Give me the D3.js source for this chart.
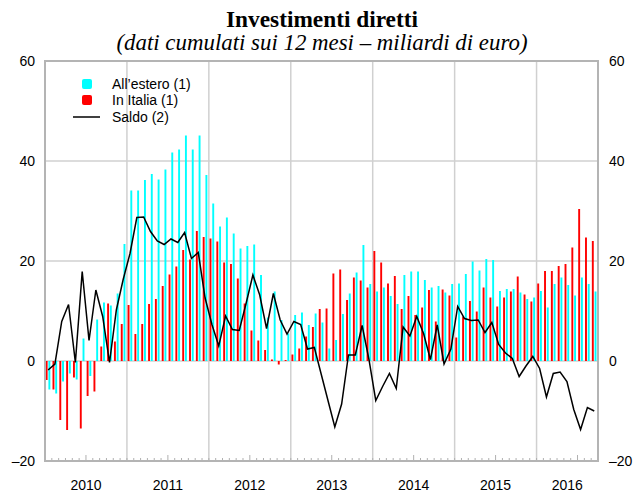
<!DOCTYPE html>
<html>
<head>
<meta charset="utf-8">
<script src="https://cdn.jsdelivr.net/npm/d3@7"></script>
<style>
  html, body { margin: 0; padding: 0; background: #fff; }
  svg { display: block; }
</style>
</head>
<body>
<svg id="chart" width="634" height="493"></svg>
<script>
// ---- Data (billions of euro, 12-month cumulated), monthly Jan 2010 - Sep 2016 ----
const months = d3.timeMonths(new Date(2010, 0, 1), new Date(2016, 9, 1)).map(d3.timeFormat("%Y-%m"));
const yearLabels = ["2010", "2011", "2012", "2013", "2014", "2015", "2016"];
const yTicks = [-20, 0, 20, 40, 60];
const yTickLabels = ["\u201320", "0", "20", "40", "60"];

const allEstero = [
  -5.7, -6.5, -4.1, -2.5, -3.7, 4.5, -3.0, 8.3, 11.7, 11.1, 13.5, 23.4,
  34.1, 34.1, 36.2, 37.4, 36.3, 38.3, 41.7, 42.3, 45.1, 42.3, 45.1, 37.2,
  31.5, 26.9, 28.7, 25.5, 22.5, 23.0, 23.3, 17.2, 8.7, 13.9, 8.2, 5.5,
  9.2, 9.7, 7.2, 9.5, 7.7, 2.5, 4.2, 9.4, 13.5, 17.7, 23.2, 15.4,
  13.9, 14.7, 13.0, 11.4, 17.2, 17.9, 17.9, 16.2, 14.7, 15.0, 13.7, 15.4,
  15.5, 17.4, 19.9, 18.1, 20.4, 20.2, 14.0, 14.4, 14.4, 13.7, 12.4, 12.7,
  14.0, 10.7, 15.4, 16.7, 15.2, 13.1, 16.7, 15.4, 13.9
];
const inItalia = [
  -3.8, -5.7, -11.8, -13.8, -3.3, -13.5, -7.0, -6.1, 2.9, 11.5, 3.9, 7.4,
  11.2, 5.4, 7.4, 11.4, 12.4, 15.0, 17.3, 18.9, 22.2, 20.3, 26.0, 24.8,
  24.5, 23.9, 19.7, 19.4, 16.5, 11.5, 6.1, 4.1, 2.2, 0.3, -0.7, 0.2,
  1.3, 2.5, 4.9, 6.8, 10.4, 10.5, 17.5, 18.3, 12.2, 16.7, 16.1, 14.7,
  22.0, 19.7, 15.5, 17.0, 10.4, 13.0, 9.2, 10.7, 14.2, 7.9, 14.3, 13.1,
  4.7, 8.9, 12.0, 9.9, 14.7, 12.7, 10.9, 12.7, 13.9, 16.9, 13.3, 11.9,
  15.5, 18.0, 18.0, 19.0, 19.4, 22.7, 30.4, 24.7, 24.0
];
const saldo = [
  -1.8, -0.6, 7.9, 11.3, -0.3, 17.9, 4.1, 14.2, 8.9, -0.3, 10.2, 16.3,
  21.5, 28.7, 28.8, 25.9, 24.0, 23.3, 24.4, 23.7, 25.7, 20.5, 21.7, 12.6,
  7.3, 3.0, 9.0, 6.3, 6.1, 11.5, 17.2, 13.2, 6.5, 13.5, 8.2, 5.4,
  7.9, 7.3, 2.4, 2.7, -2.6, -7.9, -13.2, -8.6, 1.2, 1.2, 7.1, 0.3,
  -7.9, -5.1, -2.5, -5.5, 6.8, 5.0, 8.9, 5.5, 0.3, 7.2, -0.6, 2.4,
  10.9, 8.5, 8.1, 8.2, 5.7, 7.7, 3.3, 1.6, 0.5, -3.1, -1.0, 0.9,
  -1.5, -7.2, -2.5, -2.2, -4.1, -9.7, -13.7, -9.3, -10.0
];
const seriesNames = ["All\u2019estero (1)", "In Italia (1)", "Saldo (2)"];
const colors = { estero: "#00ffff", italia: "#ff0000", saldo: "#000000" };

// ---- Layout ----
const svg = d3.select("#chart");
const m = { left: 45, right: 598, top: 61, bottom: 461 };

const x = d3.scaleBand().domain(months).range([m.left, m.right]).padding(0);
const bw = x.bandwidth();
const xSub = d3.scaleBand().domain(["italia", "estero"]).range([bw * 0.1, bw * 0.78]).paddingInner(0.3);
const y = d3.scaleLinear().domain([-20, 60]).range([m.bottom, m.top]);

const gridColor = "#d0d0d0";

// horizontal gridlines
svg.append("g").selectAll("line").data([0, 20, 40]).join("line")
  .attr("x1", m.left).attr("x2", m.right)
  .attr("y1", d => y(d)).attr("y2", d => y(d))
  .attr("stroke", gridColor).attr("stroke-width", 1.5);

// year separators
const yearStarts = months.filter(d => d.endsWith("-01") && d !== months[0]);
svg.append("g").selectAll("line").data(yearStarts).join("line")
  .attr("x1", d => x(d)).attr("x2", d => x(d))
  .attr("y1", m.top).attr("y2", m.bottom)
  .attr("stroke", gridColor).attr("stroke-width", 1.5);

// bars
const gBars = svg.append("g");
gBars.selectAll("rect.it").data(inItalia).join("rect")
  .attr("class", "it")
  .attr("x", (d, i) => x(months[i]) + xSub("italia"))
  .attr("width", xSub.bandwidth())
  .attr("y", d => y(Math.max(0, d)))
  .attr("height", d => Math.abs(y(d) - y(0)))
  .attr("fill", colors.italia);
gBars.selectAll("rect.es").data(allEstero).join("rect")
  .attr("class", "es")
  .attr("x", (d, i) => x(months[i]) + xSub("estero"))
  .attr("width", xSub.bandwidth())
  .attr("y", d => y(Math.max(0, d)))
  .attr("height", d => Math.abs(y(d) - y(0)))
  .attr("fill", colors.estero);

// saldo line
const line = d3.line()
  .x((d, i) => x(months[i]) + bw * 0.45)
  .y(d => y(d));
svg.append("path").datum(saldo)
  .attr("d", line)
  .attr("fill", "none")
  .attr("stroke", colors.saldo)
  .attr("stroke-width", 1.5)
  .attr("stroke-linejoin", "miter");

// bottom month ticks
const tickColor = "#b0b0b0";
svg.append("g").selectAll("line").data(months.slice(1)).join("line")
  .attr("x1", d => x(d)).attr("x2", d => x(d))
  .attr("y1", m.bottom)
  .attr("y2", d => d.endsWith("-07") ? m.bottom - 6 : m.bottom - 3)
  .attr("stroke", tickColor).attr("stroke-width", 1);

// frame
svg.append("rect")
  .attr("x", m.left).attr("y", m.top)
  .attr("width", m.right - m.left).attr("height", m.bottom - m.top)
  .attr("fill", "none").attr("stroke", "#b4b4b4").attr("stroke-width", 2);

// y axes labels (left and right)
const axisFont = "Liberation Sans, Arial, sans-serif";
const yAxisL = d3.axisLeft(y).tickValues(yTicks).tickSize(0).tickPadding(10)
  .tickFormat((d, i) => yTickLabels[i]);
const gL = svg.append("g").attr("transform", `translate(${m.left},0)`).call(yAxisL);
const yAxisR = d3.axisRight(y).tickValues(yTicks).tickSize(0).tickPadding(11)
  .tickFormat((d, i) => yTickLabels[i]);
const gR = svg.append("g").attr("transform", `translate(${m.right},0)`).call(yAxisR);
[gL, gR].forEach(g => {
  g.select(".domain").remove();
  g.selectAll("text").attr("font-family", axisFont).attr("font-size", 14).attr("fill", "#000");
});

// year labels centred on each (visible) year span
const yearSpans = yearLabels.map(yr => {
  const ms = months.filter(d => d.startsWith(yr));
  return { label: yr, x0: x(ms[0]), x1: x(ms[ms.length - 1]) + bw };
});
svg.append("g").selectAll("text").data(yearSpans).join("text")
  .attr("x", d => (d.x0 + d.x1) / 2)
  .attr("y", 490)
  .attr("text-anchor", "middle")
  .attr("font-family", axisFont).attr("font-size", 14)
  .text(d => d.label);

// titles (font size fitted to the reference text widths)
function fitText(sel, baseSize, target) {
  sel.attr("font-size", baseSize);
  const w = sel.node().getComputedTextLength();
  if (w > 0) sel.attr("font-size", (baseSize * target / w).toFixed(2));
}
const t1 = svg.append("text").attr("x", 322).attr("y", 27).attr("text-anchor", "middle")
  .attr("font-family", "Liberation Serif, Times New Roman, serif")
  .attr("font-weight", "bold")
  .text("Investimenti diretti");
fitText(t1, 21, 192);
const t2 = svg.append("text").attr("x", 322).attr("y", 50).attr("text-anchor", "middle")
  .attr("font-family", "Liberation Serif, Times New Roman, serif")
  .attr("font-style", "italic")
  .text("(dati cumulati sui 12 mesi \u2013 miliardi di euro)");
fitText(t2, 19, 411);

// legend
const lg = svg.append("g").attr("font-family", axisFont).attr("font-size", 14);
const legendRows = [
  { name: seriesNames[0], color: colors.estero, type: "box", y: 84 },
  { name: seriesNames[1], color: colors.italia, type: "box", y: 100 },
  { name: seriesNames[2], color: colors.saldo, type: "line", y: 117 }
];
legendRows.forEach(r => {
  if (r.type === "box") {
    lg.append("rect").attr("x", 82).attr("y", r.y - 5).attr("width", 10).attr("height", 10)
      .attr("rx", 2).attr("fill", r.color);
  } else {
    lg.append("line").attr("x1", 73).attr("x2", 100).attr("y1", r.y).attr("y2", r.y)
      .attr("stroke", r.color).attr("stroke-width", 1.5);
  }
  lg.append("text").attr("x", 112).attr("y", r.y).attr("dy", "0.35em").text(r.name);
});
</script>
</body>
</html>
